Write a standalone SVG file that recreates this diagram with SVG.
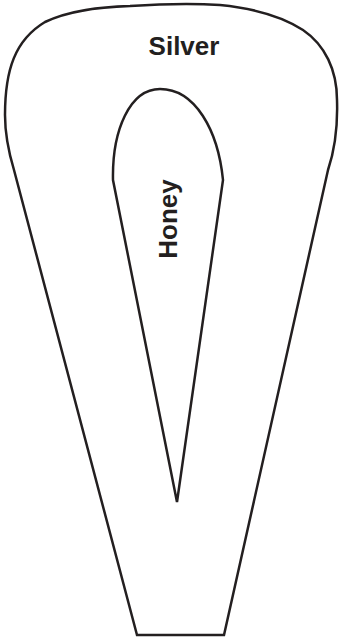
<svg xmlns="http://www.w3.org/2000/svg" width="339" height="639" viewBox="0 0 339 639">
<style>
.shape{fill:none;stroke:#231f20;stroke-width:2.5;stroke-linejoin:miter}
.lbl{font-family:"Liberation Sans",Arial,sans-serif;font-weight:bold;font-size:26px;fill:#231f20;text-anchor:middle}
</style>
<rect width="339" height="639" fill="#fff"/>
<g id="silver">
<path class="shape" d="M 137 635 L 14 170 C 8 150, 5 135, 5 115 C 5 70, 15 40, 45 22 C 70 10, 100 7, 130 6 C 160 4, 190 3, 220 5 C 250 8, 280 15, 303 30 C 325 45, 337 70, 337 100 C 338 130, 333 155, 328 170 L 224 635 Z"/>
<text class="lbl" x="184" y="55">Silver</text>
</g>
<g id="honey">
<path class="shape" d="M 177 502 L 113 180 C 112 130, 130 89, 160 89 C 195 89, 218 130, 223 180 Z"/>
<text class="lbl" transform="translate(177,219) rotate(-90)">Honey</text>
</g>
</svg>
